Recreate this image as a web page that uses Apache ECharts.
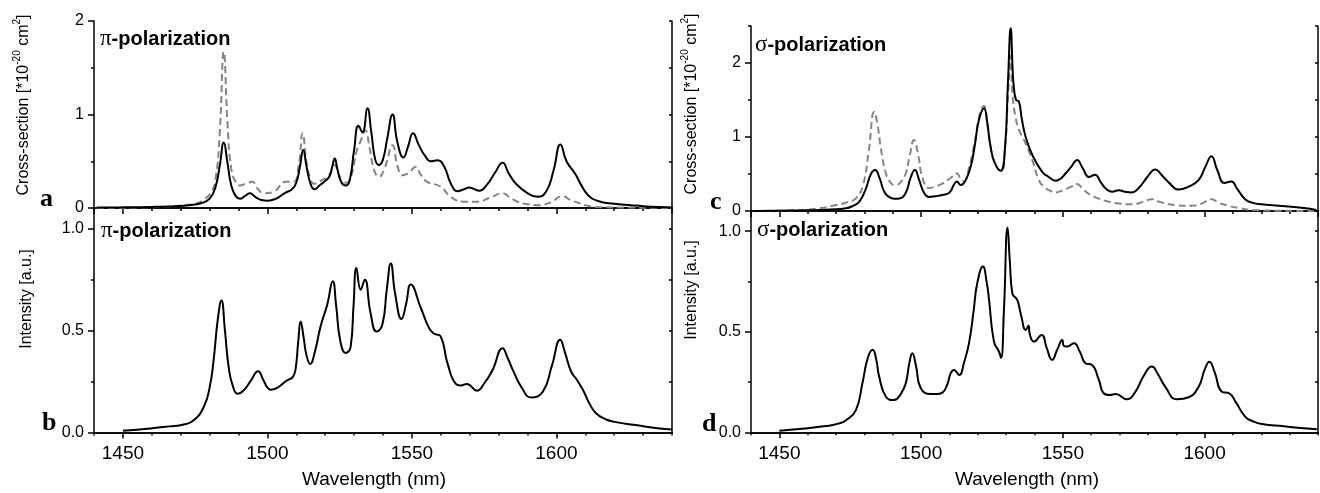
<!DOCTYPE html>
<html><head><meta charset="utf-8">
<script src="https://cdn.jsdelivr.net/npm/echarts@6.0.0/dist/echarts.min.js"></script>
<style>html,body{margin:0;padding:0;background:#fff}#c{width:1320px;height:493px}</style>
</head><body><div id="c"></div><script>
// ---- data: [wavelength (nm), value] ----
const piCrossSolid = [[1441,0.005],[1450,0.007],[1460,0.012],[1468,0.02],[1473,0.03],[1477,0.05],[1480,0.1],[1482,0.22],[1483.5,0.45],[1484.9,0.70],[1486.2,0.48],[1487.5,0.24],[1489,0.13],[1490.5,0.1],[1492.3,0.13],[1494,0.157],[1495.8,0.12],[1498,0.085],[1500,0.078],[1503,0.1],[1506,0.16],[1508.5,0.2],[1510,0.27],[1511.3,0.45],[1512.4,0.62],[1513.5,0.45],[1515,0.25],[1516.3,0.2],[1518,0.24],[1520,0.29],[1521.5,0.34],[1522.5,0.45],[1523.3,0.53],[1524.2,0.42],[1525.5,0.28],[1527.1,0.24],[1528.5,0.3],[1530,0.62],[1531.5,0.88],[1532.9,0.81],[1534.6,1.066],[1536,0.8],[1537.3,0.52],[1538.6,0.46],[1540,0.52],[1541.5,0.75],[1543.3,1.00],[1545,0.7],[1547.1,0.54],[1548.6,0.65],[1550.4,0.80],[1552.3,0.68],[1554.5,0.56],[1556.6,0.50],[1558.9,0.51],[1561.2,0.44],[1563.5,0.26],[1565.8,0.18],[1568,0.2],[1569.8,0.22],[1573.3,0.185],[1576,0.25],[1578.8,0.38],[1581.4,0.485],[1583.5,0.37],[1586,0.26],[1590.1,0.157],[1593.5,0.12],[1596.5,0.18],[1599,0.4],[1601.4,0.68],[1603.5,0.5],[1606.6,0.36],[1608.5,0.25],[1610.9,0.14],[1614.4,0.075],[1620,0.045],[1625.9,0.03],[1630,0.02],[1635.7,0.01],[1640,0.005]];
const piCrossDashed = [[1441,0.0],[1455,0.005],[1465,0.015],[1471,0.03],[1475.7,0.05],[1478,0.09],[1480.3,0.157],[1482,0.3],[1483.5,0.8],[1484.9,1.67],[1486.2,0.9],[1487.5,0.42],[1489,0.28],[1490.5,0.24],[1492.5,0.26],[1494.7,0.28],[1496.8,0.2],[1498.8,0.157],[1502,0.17],[1506.3,0.28],[1509,0.28],[1510.8,0.45],[1512.2,0.80],[1513.5,0.5],[1515,0.3],[1516.1,0.26],[1519,0.30],[1521.3,0.35],[1523.2,0.46],[1524.5,0.38],[1526,0.28],[1527.3,0.27],[1529,0.34],[1530.8,0.6],[1532.2,0.71],[1533.9,0.83],[1535.3,0.65],[1537,0.4],[1538.6,0.335],[1540.5,0.42],[1543.3,0.67],[1545,0.45],[1546.8,0.35],[1549,0.38],[1551.3,0.44],[1553,0.36],[1555.3,0.28],[1559.9,0.23],[1563.4,0.12],[1568,0.067],[1572.6,0.067],[1577,0.11],[1581.4,0.157],[1584,0.11],[1586.6,0.067],[1590,0.04],[1593.5,0.03],[1598,0.06],[1602.2,0.128],[1604.5,0.09],[1607.4,0.057],[1610,0.03],[1614.4,0.01],[1625,0.005],[1640,0.0]];
const sigmaCrossSolid = [[1441,0.0],[1450,0.005],[1460,0.01],[1468,0.02],[1473.5,0.036],[1476,0.07],[1478.2,0.126],[1480.5,0.3],[1482.3,0.5],[1483.8,0.554],[1485.3,0.45],[1487,0.26],[1488.7,0.19],[1490.5,0.165],[1492.3,0.17],[1494.5,0.24],[1496.3,0.45],[1497.8,0.554],[1499.3,0.42],[1501,0.25],[1502.8,0.19],[1505,0.2],[1507.5,0.216],[1510,0.25],[1511.5,0.35],[1512.6,0.40],[1514,0.35],[1515.5,0.4],[1517.5,0.6],[1519,0.9],[1520.4,1.23],[1522.2,1.39],[1523.3,1.2],[1524.5,0.87],[1526,0.65],[1528.1,0.545],[1529.5,0.8],[1530.7,1.8],[1531.6,2.47],[1532.3,1.9],[1532.7,1.68],[1533.5,1.5],[1534.5,1.48],[1535.5,1.25],[1536.9,1.0],[1539.2,0.76],[1542.7,0.53],[1545,0.46],[1547.4,0.41],[1549.3,0.44],[1551,0.51],[1553,0.6],[1555,0.69],[1557,0.58],[1559.2,0.46],[1561.3,0.49],[1563.5,0.38],[1565.5,0.29],[1567.4,0.26],[1569.7,0.28],[1572,0.26],[1574.2,0.25],[1577,0.32],[1580,0.47],[1582.6,0.56],[1585,0.48],[1587.5,0.38],[1590.8,0.29],[1594.4,0.33],[1597.9,0.42],[1600.3,0.6],[1602.4,0.74],[1604.5,0.55],[1607,0.38],[1609.4,0.40],[1611.5,0.3],[1614.3,0.16],[1617,0.11],[1620.2,0.09],[1625,0.075],[1629.6,0.06],[1635,0.04],[1639.4,0.014]];
const sigmaCrossDashed = [[1441,0.0],[1455,0.01],[1463,0.03],[1470,0.08],[1474,0.12],[1477,0.17],[1479.5,0.35],[1481.5,0.8],[1483.5,1.34],[1484.7,1.15],[1485.8,0.85],[1487.5,0.52],[1489.3,0.38],[1491.1,0.35],[1493,0.4],[1494.6,0.51],[1496,0.75],[1497.5,0.96],[1499,0.75],[1500.5,0.45],[1502.8,0.31],[1505,0.33],[1507.5,0.37],[1510.5,0.45],[1512.6,0.51],[1514,0.43],[1515.1,0.40],[1517,0.6],[1519,0.95],[1520.6,1.3],[1522.2,1.42],[1523.3,1.2],[1524.5,0.87],[1526,0.64],[1528.1,0.54],[1529.5,0.8],[1530.7,1.6],[1531.5,2.1],[1532.2,1.6],[1533.3,1.27],[1534.5,1.1],[1536.3,0.96],[1539.2,0.69],[1541.5,0.42],[1543.5,0.32],[1545.7,0.27],[1547,0.25],[1550,0.28],[1553,0.33],[1555,0.365],[1557,0.3],[1559.2,0.23],[1562.5,0.17],[1566.2,0.126],[1570,0.1],[1574.4,0.09],[1578,0.12],[1581.4,0.16],[1584.5,0.12],[1589.7,0.08],[1595.5,0.07],[1599,0.1],[1602.4,0.16],[1605,0.11],[1608.5,0.07],[1612,0.04],[1616.7,0.014],[1625,0.005],[1640,0.0]];
const piIntensity = [[1450,0.008],[1459.5,0.02],[1466,0.03],[1471,0.039],[1474.5,0.06],[1478,0.126],[1480,0.22],[1481.4,0.356],[1482.8,0.55],[1484.1,0.647],[1485.3,0.5],[1486.6,0.32],[1488,0.23],[1489.7,0.19],[1492,0.21],[1494.1,0.25],[1496.8,0.30],[1498.5,0.26],[1500,0.22],[1501.1,0.21],[1503.5,0.22],[1506.3,0.25],[1507.5,0.26],[1508.7,0.27],[1509.7,0.306],[1510.7,0.45],[1511.5,0.544],[1512.5,0.47],[1513.5,0.38],[1514.8,0.336],[1516.5,0.4],[1518.4,0.52],[1520.7,0.626],[1522.6,0.741],[1523.8,0.62],[1525.2,0.45],[1527.1,0.39],[1528.8,0.42],[1529.8,0.62],[1530.8,0.806],[1532.3,0.70],[1533.7,0.749],[1535.7,0.585],[1537.8,0.495],[1539.8,0.53],[1541.3,0.7],[1542.7,0.828],[1544.2,0.68],[1546.4,0.556],[1548,0.63],[1549.6,0.725],[1553.1,0.61],[1556,0.51],[1557.7,0.484],[1560,0.47],[1562.3,0.34],[1565.2,0.238],[1567,0.23],[1569,0.238],[1572.5,0.205],[1575,0.24],[1577.9,0.306],[1581.4,0.413],[1583,0.37],[1585.2,0.298],[1588,0.22],[1591.2,0.172],[1595.3,0.2],[1598.5,0.33],[1601.3,0.454],[1603,0.39],[1605.1,0.298],[1607,0.26],[1609.2,0.208],[1611.5,0.14],[1613.8,0.093],[1617,0.065],[1620.1,0.052],[1628,0.035],[1635.7,0.02],[1640,0.015]];
const sigmaIntensity = [[1450,0.008],[1458,0.018],[1466.4,0.031],[1470.5,0.042],[1473.5,0.06],[1477,0.11],[1479.3,0.244],[1481.2,0.37],[1482.9,0.41],[1484.2,0.36],[1485.2,0.277],[1487.6,0.177],[1490.5,0.16],[1492.8,0.19],[1494.6,0.244],[1495.8,0.34],[1496.9,0.393],[1498.2,0.33],[1499.9,0.219],[1503.4,0.19],[1505.5,0.19],[1507.5,0.197],[1509.3,0.24],[1510.4,0.293],[1511.6,0.31],[1513.4,0.285],[1515.2,0.35],[1516.9,0.443],[1518.5,0.6],[1519.8,0.741],[1521.8,0.824],[1523.2,0.74],[1523.9,0.667],[1525.7,0.451],[1527.5,0.40],[1528.2,0.37],[1529.2,0.6],[1530.5,1.018],[1531.3,0.85],[1532.2,0.69],[1533.9,0.658],[1535.3,0.58],[1536.9,0.509],[1537.9,0.53],[1538.3,0.49],[1539.8,0.451],[1542.5,0.484],[1544.3,0.42],[1546.2,0.36],[1548,0.41],[1549.8,0.459],[1550.3,0.43],[1551.5,0.426],[1553.9,0.443],[1556,0.4],[1558,0.343],[1560.3,0.335],[1562.7,0.26],[1564.4,0.194],[1566.5,0.185],[1568.6,0.19],[1572.6,0.164],[1575.5,0.2],[1578.5,0.28],[1581.4,0.327],[1583.5,0.29],[1586.1,0.227],[1590.2,0.164],[1594.4,0.174],[1597.9,0.227],[1600,0.31],[1601.7,0.351],[1603.5,0.3],[1606.1,0.202],[1608.7,0.194],[1611,0.15],[1614.3,0.078],[1617,0.055],[1620.2,0.041],[1628,0.03],[1635,0.02],[1639.6,0.015]];

const xRange = [1440, 1640];
const yMaxes = [2, 1.1, 2.5, 1.1];
const yMajor = [1, 0.5, 1, 0.5];
const yMinor = [0.5, 0.25, 0.5, 0.25];
const panelLetters = ['a', 'b', 'c', 'd'];
const panelTitles = ['π', 'π', 'σ', 'σ'];
const crossTitle = 'Cross-section';
const intensityTitle = 'Intensity [a.u.]';
const xTitle = 'Wavelength (nm)';

const SANS = '"Liberation Sans", Arial, sans-serif';
const SERIF = '"Liberation Serif", "Times New Roman", serif';
const grids = [
  {left: 94, top: 21, width: 578, height: 187},
  {left: 94, top: 208, width: 578, height: 224.5},
  {left: 751, top: 26, width: 567, height: 185},
  {left: 751, top: 211, width: 567, height: 221.3}
];
const lineStyle = {color: '#000', width: 1.5};
const xAxes = [], yAxes = [];
grids.forEach((g, i) => {
  const bottomPanel = (i % 2 === 1);
  xAxes.push({gridIndex: i, type: 'value', position: 'bottom', min: xRange[0], max: xRange[1], splitNumber: 4,
    axisLine: {show: true, lineStyle}, axisTick: {show: true, inside: false, length: 6, lineStyle},
    axisLabel: {show: bottomPanel, showMinLabel: false, showMaxLabel: false, color: '#000', fontFamily: SANS, fontSize: 19, margin: 12,
      formatter: v => String(v)},
    splitLine: {show: false}});
  xAxes.push({gridIndex: i, type: 'value', position: 'bottom', min: xRange[0], max: xRange[1], interval: 10,
    axisLine: {show: false}, axisTick: {show: true, inside: false, length: 3, lineStyle},
    axisLabel: {show: false}, splitLine: {show: false}});
  xAxes.push({gridIndex: i, type: 'value', position: 'top', min: xRange[0], max: xRange[1], interval: 10,
    axisLine: {show: true, lineStyle}, axisTick: {show: true, inside: true, length: 3, lineStyle},
    axisLabel: {show: false}, splitLine: {show: false}});
  yAxes.push({gridIndex: i, type: 'value', position: 'left', min: 0, max: yMaxes[i], interval: yMajor[i],
    axisLine: {show: true, lineStyle}, axisTick: {show: true, inside: false, length: 6, lineStyle},
    axisLabel: {show: true, showMaxLabel: i === 0, color: '#000', fontFamily: SANS, fontSize: 16, margin: 10,
      formatter: v => bottomPanel ? v.toFixed(1) : String(Math.round(v))},
    splitLine: {show: false}});
  yAxes.push({gridIndex: i, type: 'value', position: 'left', min: 0, max: yMaxes[i], interval: yMinor[i],
    axisLine: {show: false}, axisTick: {show: true, inside: false, length: 3, lineStyle},
    axisLabel: {show: false}, splitLine: {show: false}});
  yAxes.push({gridIndex: i, type: 'value', position: 'right', min: 0, max: yMaxes[i], interval: yMinor[i],
    axisLine: {show: true, lineStyle}, axisTick: {show: true, inside: true, length: 3, lineStyle},
    axisLabel: {show: false}, splitLine: {show: false}});
});

function solid(data, gi) {
  return {type: 'line', data, xAxisIndex: gi * 3, yAxisIndex: gi * 3, showSymbol: false, smooth: 0.5,
    lineStyle: {color: '#000', width: 2}, z: 3, silent: true};
}
function dashed(data, gi) {
  return {type: 'line', data, xAxisIndex: gi * 3, yAxisIndex: gi * 3, showSymbol: false, smooth: 0.5,
    lineStyle: {color: '#858585', width: 2, type: [7, 4]}, z: 2, silent: true};
}

const richTitle = {
  n: {fontFamily: SANS, fontSize: 16, color: '#000', lineHeight: 20, verticalAlign: 'bottom'},
  s: {fontFamily: SANS, fontSize: 10, color: '#000', lineHeight: 20, verticalAlign: 'top'}
};
const crossText = '{n|' + crossTitle + ' [*10}{s|-20}{n| cm}{s|2}{n|]}';
const polRich = {
  g: {fontFamily: SERIF, fontSize: 23, color: '#000'},
  t: {fontFamily: SANS, fontSize: 20, fontWeight: 'bold', color: '#000'}
};
const titlePos = [[100, 39], [101, 231], [755, 45], [757, 230]];
const letterPos = [[40, 199], [42, 423], [710, 202], [702, 424]];

const graphic = [];
titlePos.forEach((p, i) => {
  graphic.push({type: 'text', x: p[0], y: p[1], z: 10, style: {text: '{g|' + panelTitles[i] + '}{t|-polarization}', rich: polRich, verticalAlign: 'middle', align: 'left'}});
});
letterPos.forEach((p, i) => {
  graphic.push({type: 'text', x: p[0], y: p[1], z: 10, style: {text: panelLetters[i], fontFamily: SERIF, fontWeight: 'bold', fontSize: 26, fill: '#000', verticalAlign: 'middle', align: 'left'}});
});
graphic.push({type: 'text', x: 22, y: 105, rotation: Math.PI / 2, z: 10, style: {text: crossText, rich: richTitle, align: 'center', verticalAlign: 'middle'}});
graphic.push({type: 'text', x: 690, y: 104, rotation: Math.PI / 2, z: 10, style: {text: crossText, rich: richTitle, align: 'center', verticalAlign: 'middle'}});
graphic.push({type: 'text', x: 27, y: 299, rotation: Math.PI / 2, z: 10, style: {text: intensityTitle, fontFamily: SANS, fontSize: 16, fill: '#000', align: 'center', verticalAlign: 'middle'}});
graphic.push({type: 'text', x: 692, y: 290, rotation: Math.PI / 2, z: 10, style: {text: intensityTitle, fontFamily: SANS, fontSize: 16, fill: '#000', align: 'center', verticalAlign: 'middle'}});
graphic.push({type: 'text', x: 374, y: 480, z: 10, style: {text: xTitle, fontFamily: SANS, fontSize: 19, fill: '#000', align: 'center', verticalAlign: 'middle'}});
graphic.push({type: 'text', x: 1027, y: 480, z: 10, style: {text: xTitle, fontFamily: SANS, fontSize: 19, fill: '#000', align: 'center', verticalAlign: 'middle'}});

const chart = echarts.init(document.getElementById('c'), null, {renderer: 'canvas'});
chart.setOption({
  animation: false,
  backgroundColor: '#fff',
  grid: grids,
  xAxis: xAxes,
  yAxis: yAxes,
  series: [
    dashed(piCrossDashed, 0), solid(piCrossSolid, 0),
    solid(piIntensity, 1),
    dashed(sigmaCrossDashed, 2), solid(sigmaCrossSolid, 2),
    solid(sigmaIntensity, 3)
  ],
  graphic
});
</script></body></html>
